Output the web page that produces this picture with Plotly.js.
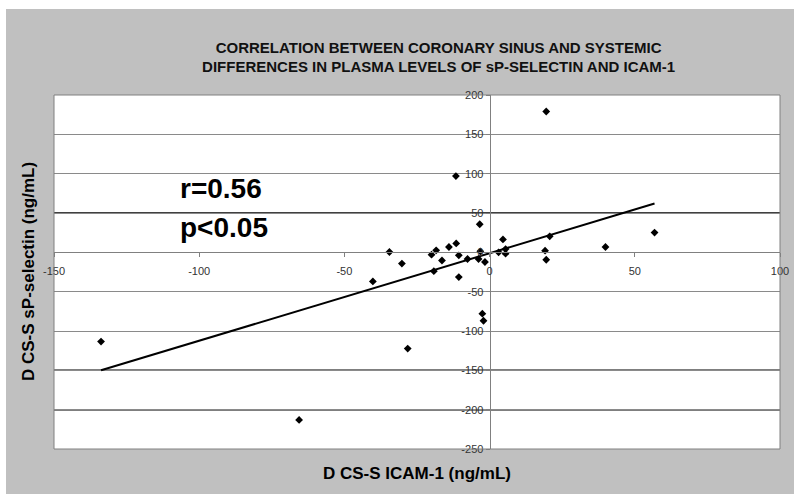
<!DOCTYPE html>
<html>
<head>
<meta charset="utf-8">
<script src="https://cdn.plot.ly/plotly-3.0.1.min.js"></script>
<style>
  html, body { margin: 0; padding: 0; background: #ffffff; }
  #chart { position: absolute; left: 6px; top: 9px; width: 788px; height: 485px; }
</style>
</head>
<body>
<div id="chart"></div>
<script>
// Scatter data: coronary sinus minus systemic differences
const icamDiff = [-133.8, -65.6, -28.2, -40.2, -19.2, -10.6, -2.5, -2.1, -11.6, -3.4,
                  -34.5, -30.2, -20.0, -18.4, -16.4, -14.0, -11.5, -10.6, -7.6, -3.8,
                  -3.2, -1.6, 3.1, 4.6, 5.5, 5.5, 19.5, 56.8, 39.9, 20.7, 19.1, 19.5];
const selectinDiff = [-113.5, -213, -122.4, -37, -24, -31.5, -78, -87, 97, 35.7,
                      0.4, -14.3, -3, 2.6, -10.4, 6.8, 11.3, -3.8, -8.5, -8.5,
                      1.3, -12.3, 0, 16.4, 4.2, -1.7, 179, 25.1, 6.8, 20.4, 2.1, -9.4];
// Linear trend line endpoints
const trendX = [-133.8, 56.8];
const trendY = [-150, 62];
// Axis ticks
const xTicks = [-150, -100, -50, 0, 50, 100];
const yTicks = [-250, -200, -150, -100, -50, 0, 50, 100, 150, 200];
const darkGrid = [50, -150, -200];
const statLines = ["r=0.56", "p<0.05"];

const titleText = "CORRELATION BETWEEN CORONARY SINUS AND SYSTEMIC<br>DIFFERENCES IN PLASMA LEVELS OF sP-SELECTIN AND ICAM-1";
const xTitle = "D CS-S ICAM-1 (ng/mL)";
const yTitle = "D CS-S sP-selectin (ng/mL)";

const xRange = [-150, 100];
const yRange = [-250, 200];

const tickFont = { family: "Liberation Sans Narrow, Liberation Sans, Arial", size: 11, color: "#333333" };
const boldFont = (size) => ({ family: "Liberation Sans, Arial", size: size, weight: "bold", color: "#000000" });

const traces = [
  {
    x: icamDiff, y: selectinDiff, type: "scatter", mode: "markers",
    marker: { symbol: "diamond", size: 6, color: "#000000" },
    hoverinfo: "x+y", showlegend: false
  },
  {
    x: trendX, y: trendY, type: "scatter", mode: "lines",
    line: { color: "#000000", width: 2 },
    hoverinfo: "skip", showlegend: false
  }
];

const shapes = darkGrid.map(v => ({
  type: "line", xref: "paper", x0: 0, x1: 1, yref: "y", y0: v, y1: v,
  line: { color: "#000000", width: 1.5 }, layer: "below"
}));
shapes.push({
  type: "rect", xref: "paper", yref: "paper", x0: 0, x1: 1, y0: 0, y1: 1,
  line: { color: "#808080", width: 1 }, layer: "above"
});

const layout = {
  width: 788, height: 485,
  paper_bgcolor: "#c0c0c0", plot_bgcolor: "#ffffff",
  margin: { l: 48, r: 14, t: 86, b: 45, pad: 0 },
  title: {
    text: titleText,
    font: { family: "Liberation Sans, Arial", size: 15, weight: "bold", color: "#111111" },
    xref: "container", x: 0.549, xanchor: "center",
    yref: "container", y: 0.91, yanchor: "middle"
  },
  xaxis: {
    range: xRange, tickvals: xTicks, ticktext: xTicks.map(String),
    anchor: "free", position: (0 - yRange[0]) / (yRange[1] - yRange[0]),
    showline: true, linecolor: "#808080", linewidth: 1,
    ticks: "outside", ticklen: 4, tickcolor: "#808080",
    showgrid: false, zeroline: false, tickfont: tickFont, ticklabelstandoff: 4,
    fixedrange: true
  },
  yaxis: {
    range: yRange, tickvals: yTicks, ticktext: yTicks.map(String),
    anchor: "free", position: (0 - xRange[0]) / (xRange[1] - xRange[0]),
    showline: true, linecolor: "#808080", linewidth: 1,
    ticks: "outside", ticklen: 4, tickcolor: "#808080",
    showgrid: true, gridcolor: "#8a8a8a", gridwidth: 1,
    zeroline: false, tickfont: tickFont,
    fixedrange: true
  },
  shapes: shapes,
  annotations: [
    { text: statLines[0], xref: "paper", yref: "paper", x: 0.23, y: 0.735,
      xanchor: "center", yanchor: "middle", showarrow: false, font: boldFont(28) },
    { text: statLines[1], xref: "paper", yref: "paper", x: 0.234, y: 0.627,
      xanchor: "center", yanchor: "middle", showarrow: false, font: boldFont(28) },
    { text: xTitle, xref: "paper", yref: "paper", x: 0.5, y: 0, yshift: -24,
      xanchor: "center", yanchor: "middle", showarrow: false, font: boldFont(17) },
    { text: yTitle, xref: "paper", yref: "paper", x: 0, xshift: -26, y: 0.5,
      xanchor: "center", yanchor: "middle", showarrow: false, textangle: -90, font: boldFont(17) }
  ]
};

Plotly.newPlot("chart", traces, layout, { displayModeBar: false, staticPlot: true });
</script>
</body>
</html>
